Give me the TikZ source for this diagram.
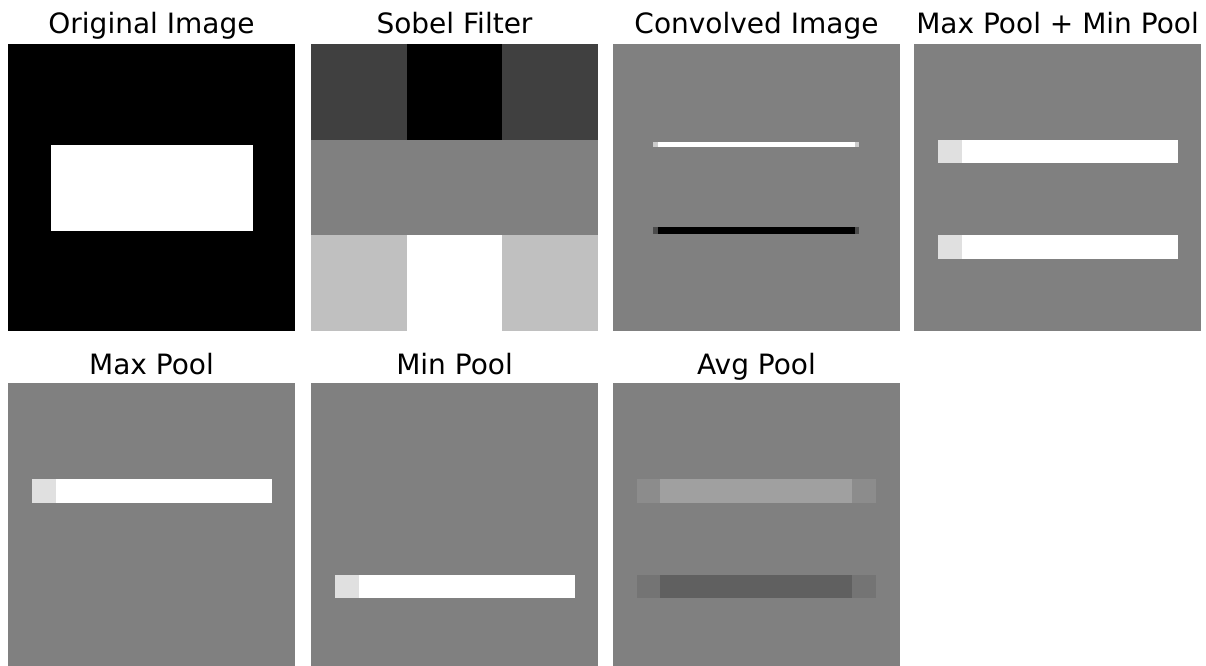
\documentclass[tikz,border=0pt]{standalone}
\usepackage{fontspec}
\setmainfont{DejaVu Sans}
\usetikzlibrary{positioning}

\definecolor{bggray}{HTML}{808080}
\definecolor{darkcell}{HTML}{404040}
\definecolor{lightcell}{HTML}{C0C0C0}
\definecolor{barend}{HTML}{E0E0E0}
\definecolor{avghi}{HTML}{A0A0A0}
\definecolor{avghiend}{HTML}{8C8C8C}
\definecolor{avglo}{HTML}{606060}
\definecolor{avgloend}{HTML}{747474}

\begin{document}
\begin{tikzpicture}[x=0.75pt, y=-0.75pt,
    title/.style={anchor=base, font=\fontsize{21}{25}\selectfont}]
    \useasboundingbox (0,0) rectangle (1206,666);

    % 1. Tiêu đề
    \node[title] (tOrig) at (151.5,34) {Original Image};
    \node[title] (tSobel) at (454.5,34) {Sobel Filter};
    \node[title] (tConv) at (756.5,34) {Convolved Image};
    \node[title] (tMaxMin) at (1057.5,34) {Max Pool + Min Pool};
    \node[title] (tMax) at (151.5,374) {Max Pool};
    \node[title] (tMin) at (454.5,374) {Min Pool};
    \node[title] (tAvg) at (756.5,374) {Avg Pool};

    % 2. Ảnh gốc
    \fill[black] (8,44) rectangle (295,331);
    \fill[white] (51,145) rectangle (253,231);

    % 3. Bộ lọc Sobel
    \foreach \col/\cc in {0/darkcell,1/black,2/darkcell} {
        \fill[\cc] ({311+95.67*\col},44) rectangle ({311+95.67*(\col+1)},139.67);
    }
    \fill[bggray] (311,139.67) rectangle (598,235.33);
    \foreach \col/\cc in {0/lightcell,1/white,2/lightcell} {
        \fill[\cc] ({311+95.67*\col},235.33) rectangle ({311+95.67*(\col+1)},331);
    }

    % 4. Ảnh sau tích chập
    \fill[bggray] (613,44) rectangle (900,331);
    \fill[white!80!black] (653,142) rectangle (859,147.5);
    \fill[white] (658,142) rectangle (855,147.5);
    \fill[black!70] (653,227.5) rectangle (859,234);
    \fill[black] (658,227.5) rectangle (855,234);

    % 5. Max Pool + Min Pool
    \fill[bggray] (914,44) rectangle (1201,331);
    \foreach \yb in {140,235.5} {
        \fill[white] (938,\yb) rectangle (1178,\yb+23.5);
        \fill[barend] (938,\yb) rectangle (962,\yb+23.5);
    }

    % 6. Max Pool
    \fill[bggray] (8,383) rectangle (295,666);
    \fill[white] (32,479) rectangle (272,502.5);
    \fill[barend] (32,479) rectangle (56,502.5);

    % 7. Min Pool
    \fill[bggray] (311,383) rectangle (598,666);
    \fill[white] (335,574.5) rectangle (575,598);
    \fill[barend] (335,574.5) rectangle (359,598);

    % 8. Avg Pool
    \fill[bggray] (613,383) rectangle (900,666);
    \fill[avghiend] (637,479) rectangle (876,502.5);
    \fill[avghi] (660,479) rectangle (852,502.5);
    \fill[avgloend] (637,574.5) rectangle (876,598);
    \fill[avglo] (660,574.5) rectangle (852,598);
\end{tikzpicture}
\end{document}
